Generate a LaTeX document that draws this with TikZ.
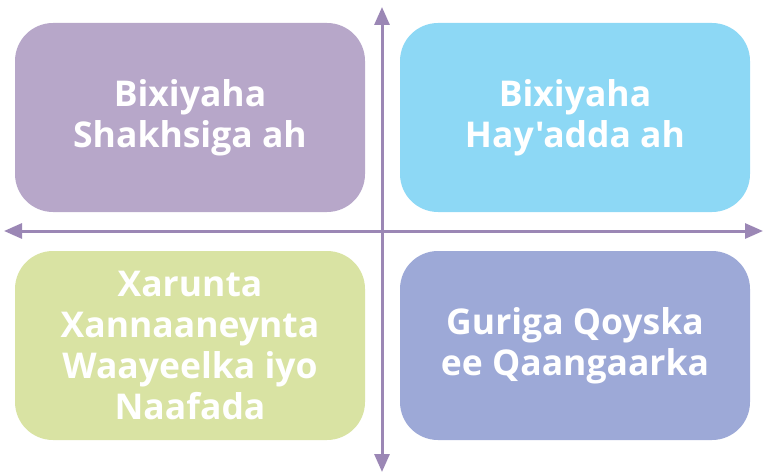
\documentclass[tikz,border=0pt]{standalone}
\usepackage{fontspec}
\setmainfont{Open Sans}[Ligatures=TeXOff]
\usetikzlibrary{arrows.meta}
\definecolor{cpurple}{HTML}{B7A7C9}
\definecolor{cblue}{HTML}{8DD8F5}
\definecolor{cgreen}{HTML}{D9E3A3}
\definecolor{cnavy}{HTML}{9DA9D7}
\definecolor{caxis}{HTML}{9B87B5}
\tikzset{
  quad/.style={fill=#1, draw=none, rounded corners=38pt},
  lbl/.style={text=white, font=\fontsize{35.5}{41}\selectfont\bfseries, align=center, inner sep=0pt},
  axis/.style={draw=caxis, line width=3pt, {Triangle[length=18pt,width=15pt]}-{Triangle[length=18pt,width=15pt]}},
}
\begin{document}
\begin{tikzpicture}[x=1pt,y=-1pt]
\useasboundingbox (0,0) rectangle (765,473);
\fill[quad=cpurple] (15,23) rectangle (365,212);
\fill[quad=cblue] (400,23) rectangle (750,212);
\fill[quad=cgreen] (15,251) rectangle (365,440);
\fill[quad=cnavy] (400,251) rectangle (750,440);
\node[lbl] (tl) at (190,117.5) {Bixiyaha\\Shakhsiga ah};
\node[lbl] (tr) at (575,117.5) {Bixiyaha\\Hay'adda ah};
\node[lbl] (bl) at (190,345.5) {Xarunta\\Xannaaneynta\\Waayeelka iyo\\Naafada};
\node[lbl] (br) at (575,345.5) {Guriga Qoyska\\ee Qaangaarka};
\coordinate (l) at (4,231);
\coordinate (r) at (763,231);
\coordinate (t) at (382,7);
\coordinate (b) at (382,472);
\draw[axis] (l) -- (r);
\draw[axis] (t) -- (b);
\end{tikzpicture}
\end{document}
